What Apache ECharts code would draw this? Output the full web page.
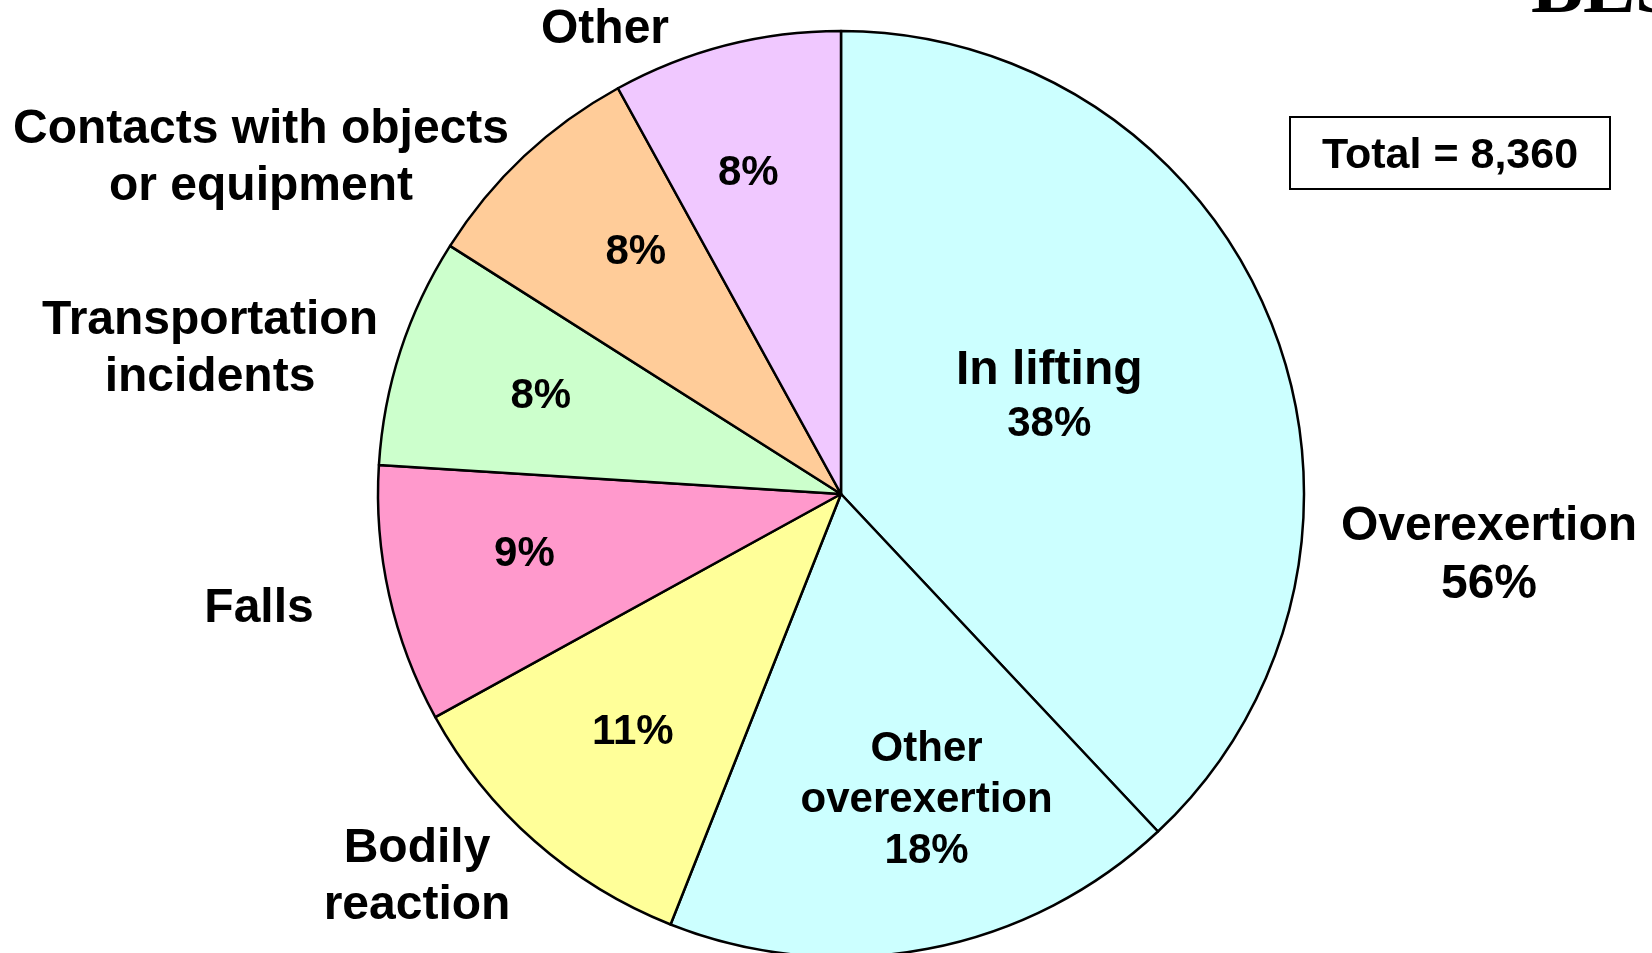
<!DOCTYPE html>
<html>
<head>
<meta charset="utf-8">
<script src="https://cdn.jsdelivr.net/npm/echarts@6/dist/echarts.min.js"></script>
<style>
html,body{margin:0;padding:0;background:#fff;}
#chart{width:1652px;height:953px;}
</style>
</head>
<body>
<div id="chart"></div>
<script>
// ---- data ----
const categories = ["In lifting", "Other overexertion", "Bodily reaction", "Falls", "Transportation incidents", "Contacts with objects or equipment", "Other"];
const values = [38, 18, 11, 9, 8, 8, 8];
const innerLabels = ["{big|In lifting}\n38%", "Other\noverexertion\n18%", "11%", "9%", "8%", "8%", "8%"];
const colors = ["#CCFFFF", "#CCFFFF", "#FFFF99", "#FF99CC", "#CCFFCC", "#FFCC99", "#F0C8FF"];
const totalText = "Total = 8,360";
const overexertionLabel = "Overexertion\n56%";
const outerLabels = ["Bodily\nreaction", "Falls", "Transportation\nincidents", "Contacts with objects\nor equipment", "Other"];

// ---- layout ----
const CX = 841, CY = 494, R = 463;
const labelRadius = [0.50, 0.68, 0.68, 0.70, 0.69, 0.69, 0.73];
const labelAngleShift = [-4.3, -4.6, 0, 2, 2, 3, -1.7];
const labelNudge = [[0, 3], [2, 3], [0, 2], [2, 1], [0, 12], [1, 2], [1, 4]];
const outerPos = [[417, 877], [259, 609], [210, 349], [261, 158], [605, 30]];

const total = values.reduce((a, b) => a + b, 0);
const midAngles = [];
let acc = 0;
values.forEach(v => { midAngles.push((acc + v / 2) / total * 360); acc += v; });

const font = '"Liberation Sans", Arial, sans-serif';
const chart = echarts.init(document.getElementById('chart'));

const graphics = [];
graphics.push({
  type: 'rect', shape: { x: 1290, y: 117, width: 320, height: 72 },
  style: { fill: '#fff', stroke: '#000', lineWidth: 2 }, z: 10
});
graphics.push({
  type: 'text', x: 1450, y: 156,
  style: { text: totalText, font: 'bold 43px ' + font, fill: '#000', textAlign: 'center', textVerticalAlign: 'middle' }, z: 11
});
graphics.push({
  type: 'text', x: 1489, y: 556,
  style: { text: overexertionLabel, font: 'bold 48px ' + font, lineHeight: 58, fill: '#000', textAlign: 'center', textVerticalAlign: 'middle' }, z: 11
});
outerLabels.forEach((t, i) => {
  graphics.push({
    type: 'text', x: outerPos[i][0], y: outerPos[i][1],
    style: { text: t, font: 'bold 48px ' + font, lineHeight: 57, fill: '#000', textAlign: 'center', textVerticalAlign: 'middle' }, z: 11
  });
});
graphics.push({
  type: 'text', x: 1531, y: 31,
  style: { text: 'BLS', font: 'bold 78px "Liberation Serif", "DejaVu Serif", serif', fill: '#000', textAlign: 'left', textVerticalAlign: 'bottom' }, z: 11
});

chart.setOption({
  animation: false,
  backgroundColor: '#ffffff',
  graphic: graphics,
  series: [{
    type: 'pie',
    center: [CX, CY],
    radius: [0, R],
    startAngle: 90,
    clockwise: true,
    avoidLabelOverlap: false,
    label: {
      show: true,
      position: 'inside',
      formatter: p => innerLabels[p.dataIndex],
      color: '#000',
      fontFamily: font,
      fontWeight: 'bold',
      fontSize: 42,
      lineHeight: 51,
      align: 'center',
      verticalAlign: 'middle',
      rich: {
        big: { fontFamily: font, fontWeight: 'bold', fontSize: 48, lineHeight: 57, color: '#000' }
      }
    },
    labelLine: { show: false },
    labelLayout: function (params) {
      const i = params.dataIndex;
      const a = (midAngles[i] + labelAngleShift[i]) * Math.PI / 180;
      const r = labelRadius[i] * R;
      return { x: CX + r * Math.sin(a) + labelNudge[i][0], y: CY - r * Math.cos(a) + labelNudge[i][1] };
    },
    itemStyle: { borderColor: '#000', borderWidth: 2.5 },
    emphasis: { disabled: true },
    data: categories.map((c, i) => ({ name: c, value: values[i], itemStyle: { color: colors[i] } }))
  }]
});
</script>
</body>
</html>
